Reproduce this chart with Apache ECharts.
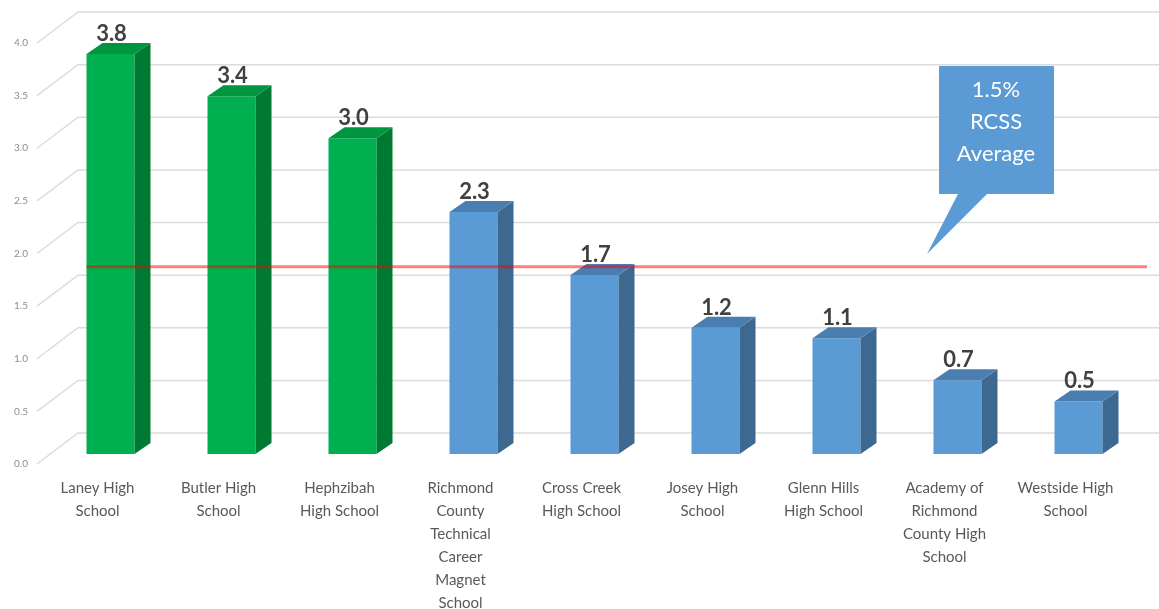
<!DOCTYPE html>
<html>
<head>
<meta charset="utf-8">
<script src="https://cdn.jsdelivr.net/npm/echarts@6/dist/echarts.min.js"></script>
<style>
  html, body { margin: 0; padding: 0; background: #fff; }
  #chart { width: 1159px; height: 609px; }
</style>
</head>
<body>
<div id="chart"></div>
<script>
// schools, left to right
var schools = [
  "Laney High\nSchool",
  "Butler High\nSchool",
  "Hephzibah\nHigh School",
  "Richmond\nCounty\nTechnical\nCareer\nMagnet\nSchool",
  "Cross Creek\nHigh School",
  "Josey High\nSchool",
  "Glenn Hills\nHigh School",
  "Academy of\nRichmond\nCounty High\nSchool",
  "Westside High\nSchool"
];
var rates = [3.8, 3.4, 3.0, 2.3, 1.7, 1.2, 1.1, 0.7, 0.5];
// 1 = above the district average (green), 0 = below (blue)
var aboveAvg = [1, 1, 1, 0, 0, 0, 0, 0, 0];
var yTicks = [0, 0.5, 1, 1.5, 2, 2.5, 3, 3.5, 4];
var rcssAvg = 1.78;
var calloutLines = ["1.5%", "RCSS", "Average"];

var FONT = "Lato, 'Liberation Sans', sans-serif";
var colors = {
  green: { front: "#00b050", side: "#007a33", top: "#00963f" },
  blue:  { front: "#5b9bd5", side: "#3d6991", top: "#4a7db0" }
};

// 3d look: bars sit 10px above the label plane, depth offsets
var BAR_LIFT = 10, BAR_W = 48, BAR_SHIFT = -11, DEP_X = 16, DEP_Y = 11;
var WALL_X = 41, WALL_Y = 31;

var barData = rates.map(function (v, i) { return [i, v, aboveAvg[i]]; });
var tickData = yTicks.map(function (v) { return [0, v]; });

var chart = echarts.init(document.getElementById("chart"));

var option = {
  animation: false,
  grid: { left: 37, right: 33, top: 43, bottom: 145, outerBoundsMode: "none", containLabel: false },
  xAxis: {
    type: "category",
    data: schools,
    axisLine: { show: false },
    axisTick: { show: false },
    axisLabel: {
      interval: 0,
      margin: 13,
      color: "#595959",
      fontFamily: FONT,
      fontSize: 15,
      lineHeight: 23,
      align: "center"
    }
  },
  yAxis: {
    type: "value",
    min: 0,
    max: 4,
    interval: 0.5,
    axisLine: { show: false },
    axisTick: { show: false },
    splitLine: { show: false },
    axisLabel: {
      margin: 9,
      color: "#8c8c8c",
      fontFamily: FONT,
      fontSize: 10,
      formatter: function (v) { return v.toFixed(1); }
    }
  },
  series: [
    {
      // floor/back-wall gridlines
      type: "custom",
      z: 1,
      silent: true,
      data: tickData,
      renderItem: function (params, api) {
        var y = api.coord([0, api.value(1)])[1];
        var x0 = params.coordSys.x;
        return {
          type: "polyline",
          shape: { points: [[x0, y], [x0 + WALL_X, y - WALL_Y], [1162, y - WALL_Y]] },
          style: { stroke: "#dcdcdc", lineWidth: 1.5, fill: null }
        };
      }
    },
    {
      type: "custom",
      z: 2,
      data: barData,
      renderItem: function (params, api) {
        var i = api.value(0), v = api.value(1);
        var c = colors[api.value(2) ? "green" : "blue"];
        var base = api.coord([i, 0]);
        var topPt = api.coord([i, v]);
        var l = base[0] + BAR_SHIFT, r = l + BAR_W;
        var y0 = base[1] - BAR_LIFT, yt = topPt[1] - BAR_LIFT;
        return {
          type: "group",
          children: [
            { type: "rect", shape: { x: l, y: yt, width: BAR_W, height: y0 - yt },
              style: { fill: c.front } },
            { type: "polygon", shape: { points: [[r, y0], [r + DEP_X, y0 - DEP_Y], [r + DEP_X, yt - DEP_Y], [r, yt]] },
              style: { fill: c.side } },
            { type: "polygon", shape: { points: [[l, yt], [l + DEP_X, yt - DEP_Y], [r + DEP_X, yt - DEP_Y], [r, yt]] },
              style: { fill: c.top } },
            { type: "text", z2: 10, style: {
                x: l + BAR_W / 2 + 1, y: yt - 20, text: v.toFixed(1),
                align: "center", verticalAlign: "middle",
                fill: "#404040", font: "bold 22px " + FONT } }
          ]
        };
      }
    },
    {
      // RCSS average line
      type: "custom",
      z: 5,
      silent: true,
      data: [[0, rcssAvg]],
      renderItem: function (params, api) {
        var p = api.coord([0, api.value(1)]);
        var y = p[1] - BAR_LIFT;
        var x0 = p[0] + BAR_SHIFT;
        var x1 = params.coordSys.x + params.coordSys.width + 21;
        return {
          type: "line",
          shape: { x1: x0, y1: y, x2: x1, y2: y },
          style: { stroke: "rgba(255,0,0,0.5)", lineWidth: 3 }
        };
      }
    }
  ],
  graphic: [
    {
      type: "polygon",
      z: 100,
      shape: { points: [[939, 66], [1054, 66], [1054, 194], [987, 194], [927, 254], [958, 194], [939, 194]] },
      style: { fill: "#5b9bd5" }
    },
    {
      type: "text",
      z: 101,
      style: { x: 996, y: 74, text: calloutLines.join("\n"), align: "center",
               fill: "#ffffff", font: "22px " + FONT, lineHeight: 32 }
    }
  ]
};

chart.setOption(option);
</script>
</body>
</html>
